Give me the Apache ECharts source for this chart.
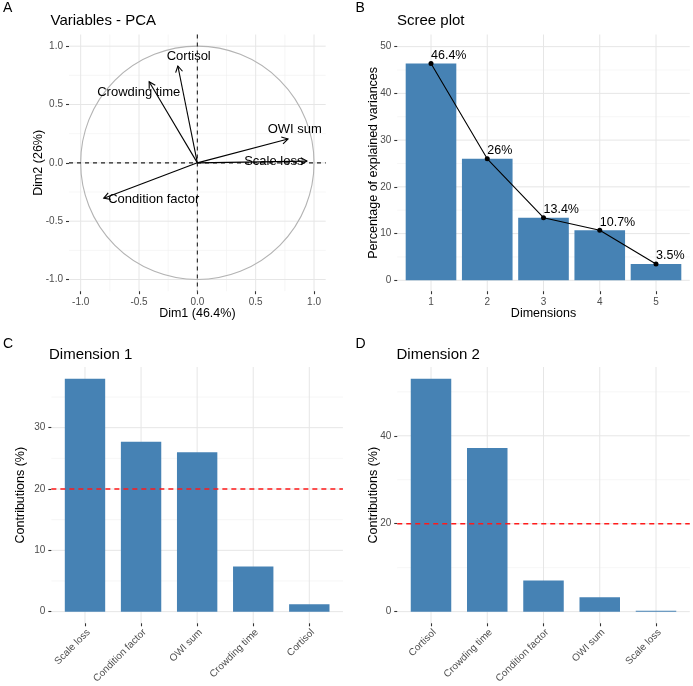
<!DOCTYPE html>
<html><head><meta charset="utf-8">
<script src="https://cdn.jsdelivr.net/npm/echarts@6/dist/echarts.min.js"></script>
<style>html,body{margin:0;padding:0;background:#fff}#c{width:693px;height:686px}</style>
</head><body><div id="c"></div>
<script>
// ---------- Panel A: correlation circle ----------
const varNames = ['Cortisol', 'Crowding time', 'OWI sum', 'Scale loss', 'Condition factor'];
const dim1Coord = [-0.167, -0.413, 0.777, 0.939, -0.802];
const dim2Coord = [0.830, 0.695, 0.205, 0.015, -0.303];
const labelDim1 = [-0.074, -0.502, 0.835, 0.655, -0.374];
const labelDim2 = [0.911, 0.606, 0.289, 0.011, -0.311];
const circleRadius = 1;
const pcaTicks = [-1, -0.5, 0, 0.5, 1];
const pcaMinor = [-0.75, -0.25, 0.25, 0.75];
// ---------- Panel B: scree plot ----------
const dimensions = [1, 2, 3, 4, 5];
const explainedVar = [46.4, 26.0, 13.4, 10.7, 3.5];
const explainedLabels = ['46.4%', '26%', '13.4%', '10.7%', '3.5%'];
const screeYTicks = [0, 10, 20, 30, 40, 50];
const screeYMinor = [5, 15, 25, 35, 45];
// ---------- Panel C: contributions to Dim 1 ----------
const contrib1Names = ['Scale loss', 'Condition factor', 'OWI sum', 'Crowding time', 'Cortisol'];
const contrib1 = [38.0, 27.7, 26.0, 7.35, 1.2];
const c1YTicks = [0, 10, 20, 30];
const c1YMinor = [5, 15, 25, 35];
// ---------- Panel D: contributions to Dim 2 ----------
const contrib2Names = ['Cortisol', 'Crowding time', 'Condition factor', 'OWI sum', 'Scale loss'];
const contrib2 = [53.0, 37.2, 7.1, 3.3, 0.2];
const c2YTicks = [0, 20, 40];
const c2YMinor = [10, 30, 50];
const refLine = [20];

const FONT = '"Liberation Sans", Arial, sans-serif';
const MAJOR = '#e6e6e6', MINOR = '#f0f0f0';

function lines(idx, vals, dir, color, width, dash, z) {
  return {
    type: 'custom', xAxisIndex: idx, yAxisIndex: idx, silent: true, z: z || 0,
    data: vals.map(v => [v, v]),
    renderItem(params, api) {
      const cs = params.coordSys;
      const v = api.value(0);
      let shape;
      if (dir === 'v') {
        const x = api.coord([v, 0])[0];
        shape = { x1: x, y1: cs.y, x2: x, y2: cs.y + cs.height };
      } else {
        const y = api.coord([0, v])[1];
        shape = { x1: cs.x, y1: y, x2: cs.x + cs.width, y2: y };
      }
      return { type: 'line', shape, style: { stroke: color, lineWidth: width, lineDash: dash || null } };
    }
  };
}
function bars(idx, vals, halfW) {
  return {
    type: 'custom', xAxisIndex: idx, yAxisIndex: idx, z: 2,
    data: vals.map((v, i) => [i + 1, v]),
    renderItem(params, api) {
      const x = api.value(0), y = api.value(1);
      const a = api.coord([x - halfW, y]);
      const b = api.coord([x + halfW, 0]);
      return { type: 'rect', shape: { x: a[0], y: a[1], width: b[0] - a[0], height: b[1] - a[1] },
        style: { fill: '#4682B4' } };
    }
  };
}
function valAxis(gridIndex, min, max, ticks, fmt, name, nameGap, rotate) {
  const label = { customValues: ticks, formatter: fmt, color: '#4d4d4d', fontSize: 10, margin: 6,
    fontFamily: FONT };
  if (rotate) {
    label.rotate = rotate; label.align = 'right'; label.verticalAlign = 'top'; label.margin = 4;
  }
  return {
    type: 'value', gridIndex, min, max,
    axisLine: { show: false, onZero: false },
    splitLine: { show: false },
    axisTick: { show: true, customValues: ticks, length: 3, lineStyle: { color: '#333', width: 1.1 } },
    axisLabel: label,
    name: name, nameLocation: 'middle', nameGap: nameGap, nameMoveOverlap: false,
    nameTextStyle: { color: '#000', fontSize: 12.5, fontFamily: FONT }
  };
}
const fmt1 = v => v.toFixed(1);
const fmt0 = v => String(v);

const grids = [
  { left: 69, top: 34.5, width: 256.7, height: 256.7 },
  { left: 397.25, top: 34.5, width: 292.5, height: 256.7 },
  { left: 51.35, top: 367, width: 291.6, height: 258.4 },
  { left: 397.25, top: 367, width: 292.5, height: 258.4 }
];

const titleStyle = { fontSize: 15, fontWeight: 'normal', color: '#000', fontFamily: FONT };
const letterStyle = { fontSize: 14, fontWeight: 'normal', color: '#000', fontFamily: FONT };

const option = {
  animation: false,
  backgroundColor: '#fff',
  textStyle: { fontFamily: FONT },
  title: [
    { text: 'A', left: 3, top: 1.5, padding: 0, textStyle: letterStyle },
    { text: 'B', left: 355.5, top: 1.5, padding: 0, textStyle: letterStyle },
    { text: 'C', left: 3, top: 337.5, padding: 0, textStyle: letterStyle },
    { text: 'D', left: 355.5, top: 337.5, padding: 0, textStyle: letterStyle },
    { text: 'Variables - PCA', left: 50.5, top: 13, padding: 0, textStyle: titleStyle },
    { text: 'Scree plot', left: 397, top: 13, padding: 0, textStyle: titleStyle },
    { text: 'Dimension 1', left: 49, top: 347, padding: 0, textStyle: titleStyle },
    { text: 'Dimension 2', left: 396.5, top: 347, padding: 0, textStyle: titleStyle }
  ],
  grid: grids,
  xAxis: [
    valAxis(0, -1.1, 1.1, pcaTicks, fmt1, 'Dim1 (46.4%)', 16),
    valAxis(1, 0.4, 5.6, dimensions, fmt0, 'Dimensions', 16),
    valAxis(2, 0.4, 5.6, dimensions, v => contrib1Names[v - 1], '', 0, 45),
    valAxis(3, 0.4, 5.6, dimensions, v => contrib2Names[v - 1], '', 0, 45)
  ],
  yAxis: [
    valAxis(0, -1.1, 1.1, pcaTicks, fmt1, 'Dim2 (26%)', 24.3),
    valAxis(1, -2.33, 52.6, screeYTicks, fmt0, 'Percentage of explained variances', 17),
    valAxis(2, -1.9, 39.9, c1YTicks, fmt0, 'Contributions (%)', 24.6),
    valAxis(3, -2.65, 55.65, c2YTicks, fmt0, 'Contributions (%)', 16.8)
  ],
  series: [
    // Panel A
    lines(0, pcaMinor, 'v', MINOR, 0.6), lines(0, pcaMinor, 'h', MINOR, 0.6),
    lines(0, pcaTicks, 'v', MAJOR, 1), lines(0, pcaTicks, 'h', MAJOR, 1),
    {
      type: 'custom', xAxisIndex: 0, yAxisIndex: 0, silent: true, z: 1,
      data: [[0, 0, circleRadius]],
      renderItem(params, api) {
        const c = api.coord([api.value(0), api.value(1)]);
        const r = api.size([api.value(2), 0])[0];
        return { type: 'circle', shape: { cx: c[0], cy: c[1], r }, style: { fill: null, stroke: '#b3b3b3', lineWidth: 1.1 } };
      }
    },
    lines(0, [0], 'v', '#222', 1.1, [4, 4], 3), lines(0, [0], 'h', '#222', 1.1, [4, 4], 3),
    {
      type: 'custom', xAxisIndex: 0, yAxisIndex: 0, z: 4,
      data: dim1Coord.map((x, i) => [x, dim2Coord[i]]),
      renderItem(params, api) {
        const o = api.coord([0, 0]);
        const t = api.coord([api.value(0), api.value(1)]);
        const ang = Math.atan2(t[1] - o[1], t[0] - o[0]);
        const L = 7, a = Math.PI / 6;
        const p1 = [t[0] - L * Math.cos(ang - a), t[1] - L * Math.sin(ang - a)];
        const p2 = [t[0] - L * Math.cos(ang + a), t[1] - L * Math.sin(ang + a)];
        return { type: 'group', children: [
          { type: 'line', shape: { x1: o[0], y1: o[1], x2: t[0], y2: t[1] }, style: { stroke: '#000', lineWidth: 1.1 } },
          { type: 'polyline', shape: { points: [p1, t, p2] }, style: { stroke: '#000', lineWidth: 1.1, fill: null } }
        ] };
      }
    },
    {
      type: 'custom', xAxisIndex: 0, yAxisIndex: 0, z: 5,
      data: labelDim1.map((x, i) => [x, labelDim2[i]]),
      renderItem(params, api) {
        const c = api.coord([api.value(0), api.value(1)]);
        return { type: 'text', x: c[0], y: c[1], style: { text: varNames[params.dataIndex], fill: '#000',
          fontSize: 13, fontFamily: FONT, align: 'center', verticalAlign: 'middle' } };
      }
    },
    // Panel B
    lines(1, screeYMinor, 'h', MINOR, 0.6),
    lines(1, screeYTicks, 'h', MAJOR, 1), lines(1, dimensions, 'v', MAJOR, 1),
    bars(1, explainedVar, 0.45),
    {
      type: 'line', xAxisIndex: 1, yAxisIndex: 1, z: 5,
      data: dimensions.map((d, i) => [d, explainedVar[i]]),
      symbol: 'circle', symbolSize: 5,
      itemStyle: { color: '#000' }, lineStyle: { color: '#000', width: 1.1 },
      label: { show: true, position: 'top', distance: 0, align: 'left', offset: [0, 1],
        formatter: p => explainedLabels[p.dataIndex], color: '#000', fontSize: 12.5, fontFamily: FONT }
    },
    // Panel C
    lines(2, c1YMinor, 'h', MINOR, 0.6),
    lines(2, c1YTicks, 'h', MAJOR, 1), lines(2, dimensions, 'v', MAJOR, 1),
    bars(2, contrib1, 0.36),
    lines(2, refLine, 'h', '#ff1a1a', 1.5, [5, 4], 6),
    // Panel D
    lines(3, c2YMinor, 'h', MINOR, 0.6),
    lines(3, c2YTicks, 'h', MAJOR, 1), lines(3, dimensions, 'v', MAJOR, 1),
    bars(3, contrib2, 0.36),
    lines(3, refLine, 'h', '#ff1a1a', 1.5, [5, 4], 6)
  ]
};
const chart = echarts.init(document.getElementById('c'), null, { renderer: 'canvas' });
chart.setOption(option);
</script></body></html>
